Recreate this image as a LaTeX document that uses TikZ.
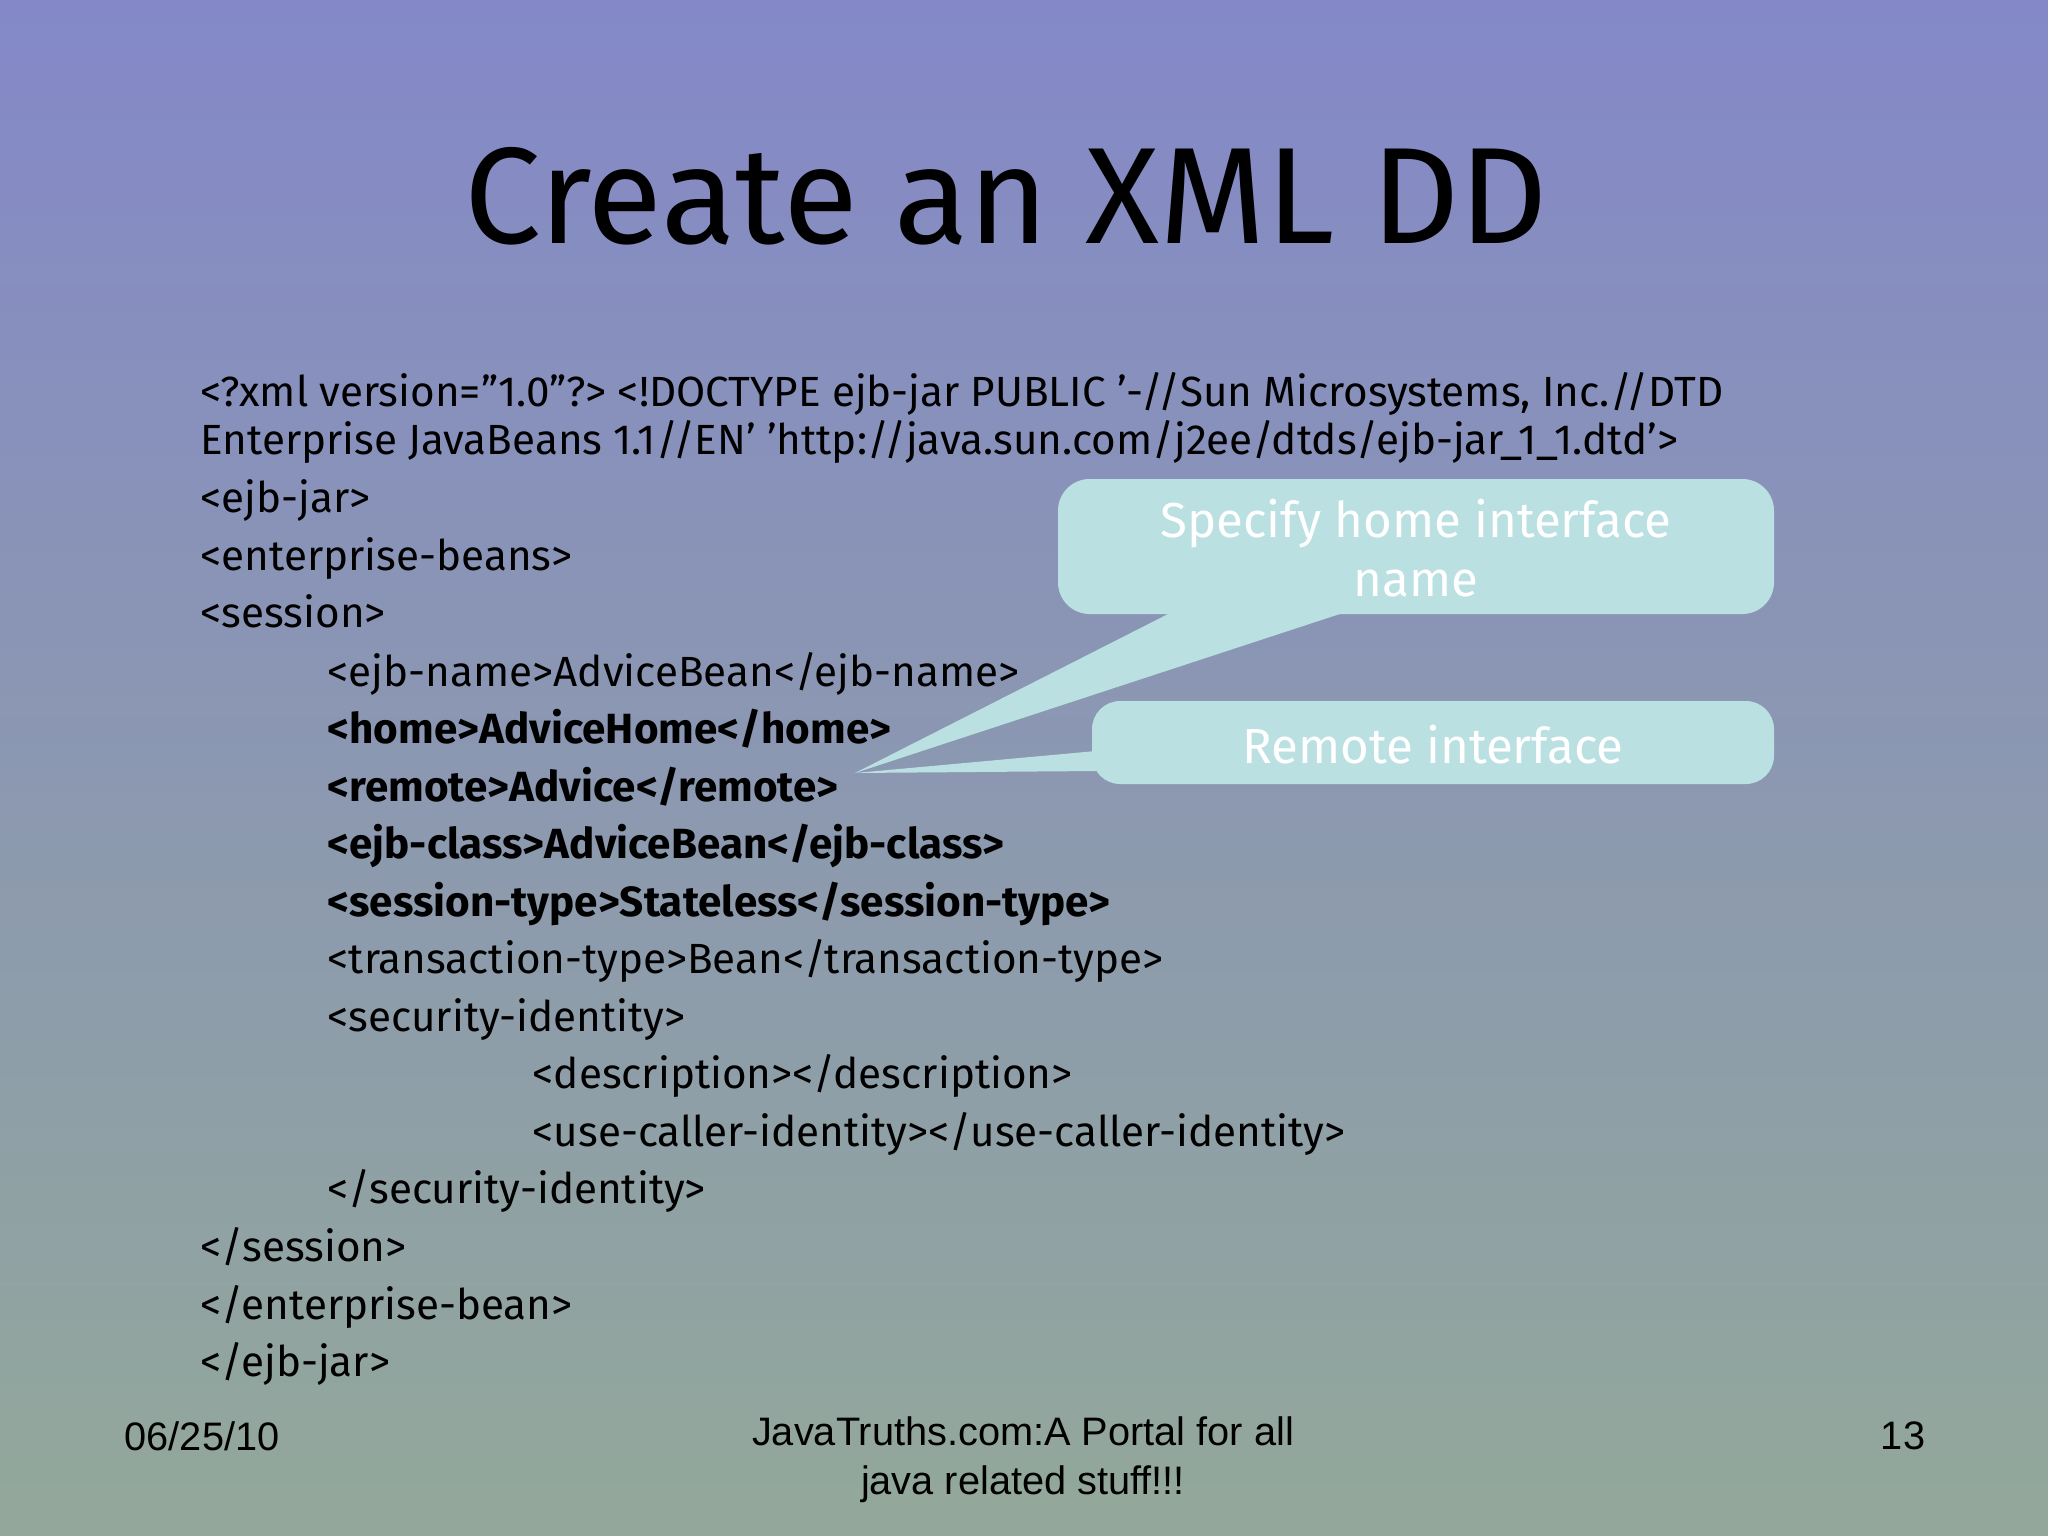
\documentclass[tikz,border=0pt]{standalone}
\usepackage{fontspec}
\setmainfont{Fira Sans}
\newfontfamily\footfont{Liberation Sans}
\newcommand{\sq}{\symbol{39}}
\newcommand{\dq}{\symbol{34}}
\begin{document}
\begin{tikzpicture}[x=0.01cm,y=-0.01cm,
  code/.style={anchor=base west,inner sep=0pt,font=\fontsize{12}{14}\selectfont},
  codeb/.style={code,font=\fontsize{12}{14}\selectfont\bfseries},
  calltext/.style={text=white,align=center,font=\fontsize{14}{17}\selectfont},
  foot/.style={font=\footfont\fontsize{11.3}{14}\selectfont,align=center,inner sep=0pt}]
\definecolor{calloutc}{HTML}{BAE0E2}
\definecolor{topc}{HTML}{8488C8}
\definecolor{botc}{HTML}{93A89A}
\useasboundingbox (0,0) rectangle (2048,1536);
\shade[top color=topc,bottom color=botc] (0,0) rectangle (2048,1536);
\node[font=\fontsize{39}{46}\selectfont] (title) at (1006,196) {Create an XML DD};
% code lines
\node[code] (l1) at (200,406) {<?xml version=\dq1.0\dq?> <!DOCTYPE ejb-jar PUBLIC \sq-//Sun Microsystems, Inc.//DTD};
\node[code] (l2) at (200,454) {Enterprise JavaBeans 1.1//EN\sq{} \sq http://java.sun.com/j2ee/dtds/ejb-jar\_1\_1.dtd\sq>};
\node[code] (l3) at (200,512) {<ejb-jar>};
\node[code] (l4) at (200,570) {<enterprise-beans>};
\node[code] (l5) at (200,627) {<session>};
\node[code] (l6) at (327,686) {<ejb-name>AdviceBean</ejb-name>};
\node[codeb] (l7) at (327,743) {<home>AdviceHome</home>};
\node[codeb] (l8) at (327,801) {<remote>Advice</remote>};
\node[codeb] (l9) at (327,858) {<ejb-class>AdviceBean</ejb-class>};
\node[codeb] (l10) at (327,916) {<session-type>Stateless</session-type>};
\node[code] (l11) at (327,973) {<transaction-type>Bean</transaction-type>};
\node[code] (l12) at (327,1031) {<security-identity>};
\node[code] (l13) at (532,1088) {<description></description>};
\node[code] (l14) at (532,1146) {<use-caller-identity></use-caller-identity>};
\node[code] (l15) at (327,1203) {</security-identity>};
\node[code] (l16) at (200,1261) {</session>};
\node[code] (l17) at (200,1319) {</enterprise-bean>};
\node[code] (l18) at (200,1376) {</ejb-jar>};
% callouts
\coordinate (tip) at (855,773);
\fill[calloutc,rounded corners=9pt] (1058,479) rectangle (1774,614);
\fill[calloutc] (1176,610) -- (1352,610) -- (tip) -- cycle;
\fill[calloutc,rounded corners=8pt] (1092,701) rectangle (1774,784);
\fill[calloutc] (1096,751) -- (1096,771) -- (tip) -- cycle;
\node[calltext] (t1) at (1416,548) {Specify home interface\\name};
\node[calltext] (t2) at (1433,745) {Remote interface};
% footer
\node[foot,anchor=west] (date) at (124,1436) {06/25/10};
\node[foot] (center) at (1023,1460) {JavaTruths.com:A Portal for all\\java related stuff!!!};
\node[foot] (page) at (1903,1436) {13};
\end{tikzpicture}
\end{document}
